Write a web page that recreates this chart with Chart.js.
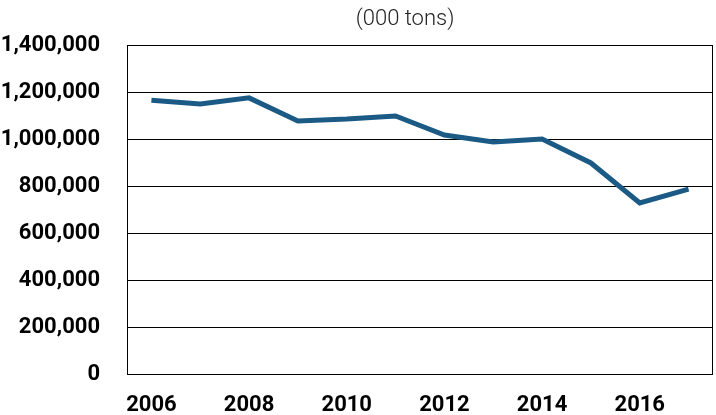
<!DOCTYPE html>
<html>
<head>
<meta charset="utf-8">
<script src="https://cdn.jsdelivr.net/npm/chart.js@4.4.1/dist/chart.umd.min.js"></script>
<style>
  html, body { margin: 0; padding: 0; background: #fff; }
  #wrap { width: 716px; height: 415px; }
</style>
</head>
<body>
<div id="wrap"><canvas id="grafica"></canvas></div>
<script>
const anios = ['2006','2007','2008','2009','2010','2011','2012','2013','2014','2015','2016','2017'];
const toneladas = [1165000, 1149000, 1175000, 1077000, 1085000, 1098000, 1017000, 987000, 1000000, 898000, 728000, 787000];
const titulo = '(000 tons)';
const fuente = 'Roboto';

// caja alrededor del area y titulo centrado sobre ella
const caja_titulo = {
    id: 'caja_titulo',
    afterDraw: (chart) => {
        const {ctx, chartArea} = chart;
        ctx.save();
        ctx.strokeStyle = '#000';
        ctx.lineWidth = 1;
        ctx.strokeRect(chartArea.left + 0.5, chartArea.top + 0.5, chartArea.right - chartArea.left - 1, chartArea.bottom - chartArea.top);
        ctx.fillStyle = '#222';
        ctx.font = '300 22px "' + fuente + '"';
        ctx.textAlign = 'center';
        ctx.textBaseline = 'middle';
        ctx.fillText(titulo, (chartArea.left + chartArea.right) / 2 - 15, 19);
        ctx.restore();
    }
};

document.addEventListener("DOMContentLoaded", function(event) {
    try{
        new Chart(document.getElementById("grafica"), {
            type: 'line',
            plugins: [caja_titulo],
            data: {
                labels: anios,
                datasets: [{
                    label: titulo,
                    data: toneladas,
                    borderColor: '#1a5a84',
                    backgroundColor: '#1a5a84',
                    borderWidth: 5,
                    pointRadius: 0,
                    tension: 0,
                    fill: false
                }]
            },
            options: {
                responsive: true,
                maintainAspectRatio: false,
                animation: false,
                layout: { padding: { top: 45, right: 3, left: 0, bottom: 0 } },
                plugins: {
                    legend: { display: false },
                    title: { display: false },
                    tooltip: { enabled: false }
                },
                scales: {
                    x: {
                        offset: true,
                        grid: { display: false, drawTicks: false },
                        border: { display: false },
                        ticks: {
                            color: '#000',
                            maxRotation: 0,
                            autoSkip: false,
                            padding: 18,
                            font: { family: fuente, size: 22, weight: 'bold' },
                            callback: function(valor, i) { return i % 2 === 0 ? this.getLabelForValue(valor) : ''; }
                        },
                        afterFit: (escala) => { escala.height = 41; }
                    },
                    y: {
                        min: 0,
                        max: 1400000,
                        grid: { color: '#000', lineWidth: 1, drawTicks: false },
                        border: { display: false },
                        ticks: {
                            stepSize: 200000,
                            color: '#000',
                            padding: 27,
                            font: { family: fuente, size: 22, weight: 'bold' },
                            callback: (v) => v.toLocaleString('en-US')
                        },
                        afterFit: (escala) => { escala.width = 127; }
                    }
                }
            }
        });
    }catch(e){
        console.error("Ocurrio un error", e);
    }
});
</script>
</body>
</html>
